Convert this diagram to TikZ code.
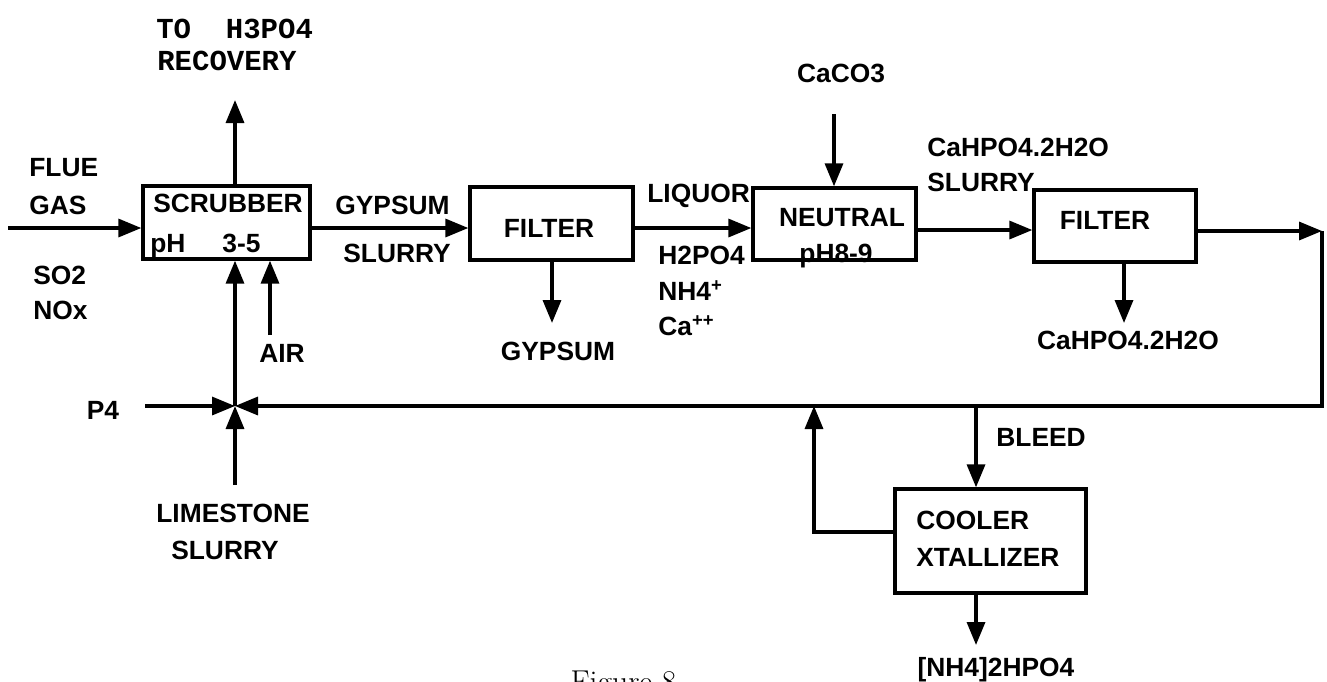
\documentclass[tikz,border=0pt]{standalone}
\usepackage{fontspec}
\newfontfamily\labf{Liberation Sans}
\newfontfamily\monof{Liberation Mono}
\newfontfamily\serf{Latin Modern Roman}
\usetikzlibrary{arrows.meta}
\begin{document}
\begin{tikzpicture}[x=0.02cm,y=-0.02cm,
  lbl/.style={font=\labf\bfseries\fontsize{15pt}{17pt}\selectfont, inner sep=0pt, text height=10.7pt, text depth=0pt},
  mono/.style={font=\monof\bfseries\fontsize{16.5pt}{18pt}\selectfont, inner sep=0pt, text height=9.3pt, text depth=0pt},
  box/.style={draw, line width=1.9pt, inner sep=0pt},
  flow/.style={line width=1.9pt, -{Triangle[length=0.46cm,width=0.36cm]}}]
\useasboundingbox (0,0) rectangle (1327,681);

% process boxes
\node[box, minimum width=3.34cm, minimum height=1.46cm] (scrub) at (226.5,222.5) {};
\node[box, minimum width=3.26cm, minimum height=1.46cm] (filt1) at (551.5,223.5) {};
\node[box, minimum width=3.26cm, minimum height=1.44cm] (neut) at (834.5,224) {};
\node[box, minimum width=3.24cm, minimum height=1.44cm] (filt2) at (1115,226) {};
\node[box, minimum width=3.82cm, minimum height=2.08cm] (cooler) at (990.5,541) {};

% labels
\node[mono, anchor=west] (to) at (156,30) {TO~~H3PO4};
\node[mono, anchor=west] (rec) at (157,62) {RECOVERY};
\node[lbl, anchor=west] (flue) at (29,167) {FLUE};
\node[lbl, anchor=west] (gas) at (29,205) {GAS};
\node[lbl, anchor=west] (so2) at (33,275) {SO2};
\node[lbl, anchor=west] (nox) at (33,310) {NOx};
\node[lbl, anchor=west] (scrubt) at (153,203) {SCRUBBER};
\node[lbl, anchor=west] (pht) at (150,243) {pH\hspace{0.74cm}3-5};
\node[lbl, anchor=west] (gyp1) at (335,205) {GYPSUM};
\node[lbl, anchor=west] (slu1) at (343,253) {SLURRY};
\node[lbl] (filt1t) at (549,228) {FILTER};
\node[lbl, anchor=west] (liq) at (647,193) {LIQUOR};
\node[lbl, anchor=west] (h2) at (658,255) {H2PO4};
\node[lbl, anchor=west] (nh4) at (658,291) {NH4\textsuperscript{+}};
\node[lbl, anchor=west] (ca) at (658,326) {Ca\textsuperscript{++}};
\node[lbl] (gyp2) at (558,351) {GYPSUM};
\node[lbl] (caco) at (841,73) {CaCO3};
\node[lbl] (neutt) at (842,217) {NEUTRAL};
\node[lbl] (ph89) at (836,253) {pH8-9};
\node[lbl, anchor=west] (cah1) at (927,147) {CaHPO4.2H2O};
\node[lbl, anchor=west] (slu2) at (927,182) {SLURRY};
\node[lbl] (filt2t) at (1105,220) {FILTER};
\node[lbl] (cah2) at (1128,340) {CaHPO4.2H2O};
\node[lbl] (p4) at (103,410) {P4};
\node[lbl] (air) at (282,353) {AIR};
\node[lbl] (lime) at (233,513) {LIMESTONE};
\node[lbl] (slu3) at (225,550) {SLURRY};
\node[lbl, anchor=west] (bleed) at (996,437) {BLEED};
\node[lbl, anchor=west] (cool) at (916,520) {COOLER};
\node[lbl, anchor=west] (xtal) at (916,557) {XTALLIZER};
\node[lbl] (nh42) at (996,667) {[NH4]2HPO4};
\node[font=\serf\fontsize{18pt}{20pt}\selectfont, inner sep=0pt, anchor=north] (fig) at (623.5,671) {Figure 8};

% junction and helper coordinates
\coordinate (fl) at (0,228);
\coordinate (fl2) at (0,230);
\coordinate (fl3) at (0,231);
\coordinate (flue0) at (8,228);
\coordinate (junc) at (235,406);
\coordinate (p4s) at (145,406);
\coordinate (ls) at (235,485);
\coordinate (airs) at (270,335);
\coordinate (rt) at (235,100);
\coordinate (g1) at (552,323);
\coordinate (cc) at (834,114);
\coordinate (g2) at (1124,323);
\coordinate (corner) at (1322,231);
\coordinate (botr) at (1322,406);
\coordinate (bl) at (976,406);
\coordinate (ret) at (814,406);
\coordinate (nh) at (976,645);

% connectors
\draw[flow] (flue0) -- (scrub.west |- fl);
\draw[flow] (scrub.north -| rt) -- (rt);
\draw[flow] (scrub.east |- fl) -- (filt1.west |- fl);
\draw[flow] (filt1.east |- fl) -- (neut.west |- fl);
\draw[flow] (neut.east |- fl2) -- (filt2.west |- fl2);
\draw[flow] (filt2.east |- fl3) -- (corner);
\draw[flow, line join=miter] (corner) -- (botr) -- (junc);
\draw[flow] (p4s) -- (junc);
\draw[flow] (ls) -- (junc);
\draw[flow] (junc) -- (scrub.south -| junc);
\draw[flow] (airs) -- (scrub.south -| airs);
\draw[flow] (filt1.south -| g1) -- (g1);
\draw[flow] (cc) -- (neut.north -| cc);
\draw[flow] (filt2.south -| g2) -- (g2);
\draw[flow] (bl) -- (cooler.north -| bl);
\draw[flow] ([yshift=0.18cm]cooler.west) -| (ret);
\draw[flow] (cooler.south -| bl) -- (nh);
\end{tikzpicture}
\end{document}
